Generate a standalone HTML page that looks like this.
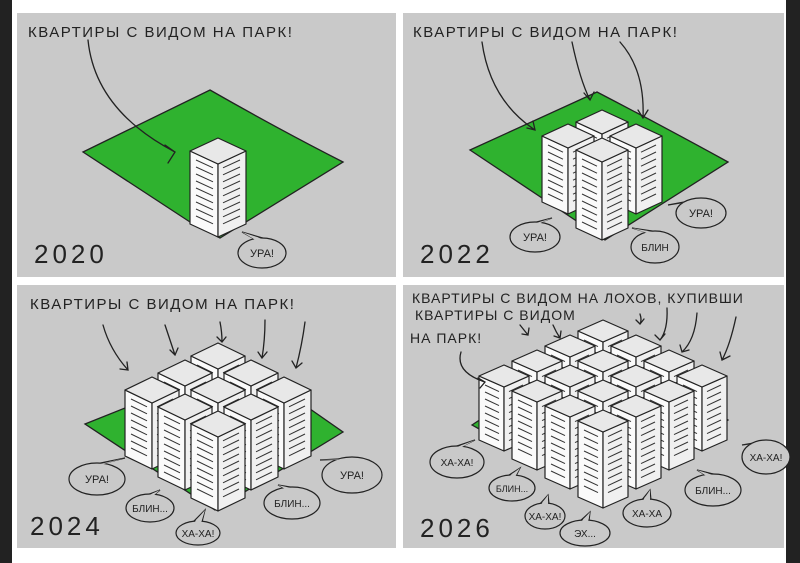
<!DOCTYPE html>
<html><head><meta charset="utf-8"><style>
html,body{margin:0;padding:0;background:#fff;}
body{width:800px;height:563px;overflow:hidden;position:relative;}
svg{position:absolute;left:0;top:0;}
text{font-family:"Liberation Sans","DejaVu Sans",sans-serif;fill:#222;}
</style></head><body>
<svg id="s" width="800" height="563" viewBox="0 0 800 563" xmlns="http://www.w3.org/2000/svg">
<rect x="0" y="0" width="12" height="563" fill="#222"/>
<rect x="786" y="0" width="14" height="563" fill="#222"/>
<rect x="17" y="13" width="379" height="264" fill="#c9c9c9"/>
<rect x="403" y="13" width="381" height="264" fill="#c9c9c9"/>
<rect x="17" y="285" width="379" height="263" fill="#c9c9c9"/>
<rect x="403" y="285" width="381" height="263" fill="#c9c9c9"/>
<!-- greens -->
<path d="M83 152 L210 90 Q280 130 343 162 L220 238 L190 222 Z" fill="#2fb22f" stroke="#222" stroke-width="1.3"/>
<path d="M470 150 L597 92 Q670 130 728 162 L605 240 L560 210 Z" fill="#2fb22f" stroke="#222" stroke-width="1.3"/>
<path d="M85 424 L170 390 L290 395 L343 432 L215 510 Z" fill="#2fb22f" stroke="#222" stroke-width="1.3"/>
<path d="M472 425 L600 340 L728 420 L605 500 Z" fill="#2fb22f" stroke="#222" stroke-width="1.3"/>
<g id="b"></g>
<g fill="none" stroke="#222" stroke-width="1.3" stroke-linecap="round">
<path d="M88 40 Q95 110 175 152 M165 145 L175 152 L168 163"/>
<path d="M482 42 Q490 100 535 130 M527 128 L535 130 L533 121"/>
<path d="M572 42 Q580 80 590 100 M584 93 L590 100 L594 92"/>
<path d="M620 42 Q645 70 643 118 M638 110 L643 118 L648 110"/>
<path d="M103 325 Q110 350 128 370 M120 369 L128 370 L127 362"/>
<path d="M165 325 Q170 340 175 355 M170 350 L175 355 L178 348"/>
<path d="M220 322 Q222 332 222 342 M217 337 L222 342 L226 337"/>
<path d="M265 320 Q265 340 262 358 M258 352 L262 358 L267 352"/>
<path d="M305 322 Q302 345 296 368 M292 361 L296 368 L302 363"/>
<path d="M461 352 Q455 372 485 382 M478 378 L485 382 L480 388"/>
<path d="M520 325 L528 335 M522 334 L528 335 L529 328"/>
<path d="M553 325 Q556 332 560 338 M554 336 L560 338 L561 331"/>
<path d="M640 314 Q642 320 640 324 M636 320 L640 324 L644 319"/>
<path d="M667 308 Q668 330 660 340 M655 335 L660 340 L665 334"/>
<path d="M697 313 Q695 340 682 352 M680 345 L682 352 L689 350"/>
<path d="M736 317 Q730 345 722 360 M720 352 L722 360 L730 356"/>
</g>
<g id="bub" fill="#c9c9c9" stroke="#222" stroke-width="1.2"></g>
<g font-size="15" letter-spacing="1.5">
<text x="28" y="37">КВАРТИРЫ С ВИДОМ НА ПАРК!</text>
<text x="413" y="37">КВАРТИРЫ С ВИДОМ НА ПАРК!</text>
<text x="30" y="309">КВАРТИРЫ С ВИДОМ НА ПАРК!</text>
<text x="412" y="303" font-size="14" letter-spacing="1">КВАРТИРЫ С ВИДОМ НА ЛОХОВ, КУПИВШИ</text>
<text x="415" y="320" font-size="14" letter-spacing="1">КВАРТИРЫ С ВИДОМ</text>
<text x="410" y="343" font-size="14" letter-spacing="1">НА ПАРК!</text>
</g>
<g font-size="26" letter-spacing="4" style="font-weight:300">
<text x="34" y="263">2020</text>
<text x="420" y="263">2022</text>
<text x="30" y="535">2024</text>
<text x="420" y="537">2026</text>
</g>
</svg>
<script>
var NS="http://www.w3.org/2000/svg";
var g=document.getElementById('b');
function el(t,a,p){var e=document.createElementNS(NS,t);for(var k in a)e.setAttribute(k,a[k]);(p||g).appendChild(e);return e;}
function bld(cx,ty,bw,bd,h){
 var st={stroke:"#222","stroke-width":"1.2","stroke-linejoin":"round"};
 function poly(pts,f){var a={points:pts.map(function(p){return p.join(',')}).join(' '),fill:f};for(var k in st)a[k]=st[k];el('polygon',a);}
 poly([[cx-bw,ty+bd],[cx,ty+2*bd],[cx,ty+2*bd+h],[cx-bw,ty+bd+h]],"#fafafa");
 poly([[cx,ty+2*bd],[cx+bw,ty+bd],[cx+bw,ty+bd+h],[cx,ty+2*bd+h]],"#f0f0f0");
 poly([[cx,ty],[cx+bw,ty+bd],[cx,ty+2*bd],[cx-bw,ty+bd]],"#e8e8e8");
 var n=Math.floor(h/7);
 for(var i=1;i<n;i++){var y=ty+bd+i*7;
  el('line',{x1:cx-bw+6,y1:y+2,x2:cx-5,y2:y+bd*0.6+2,stroke:"#333","stroke-width":"1"});
  el('line',{x1:cx+5,y1:y+bd*0.6+2,x2:cx+bw-6,y2:y+2,stroke:"#333","stroke-width":"1"});}
}
function grid(N,ox,oy,sx,sy,bw,bd,hf,c){
 for(var s=0;s<=2*(N-1);s++)for(var i=0;i<N;i++){var j=s-i;if(j<0||j>=N)continue;
  bld(ox+(i-j)*sx,oy+(i+j)*sy,bw,bd,hf-(2*(N-1)-s)*c);}
}
bld(218,138,28,13,73);
grid(2,602,110,34,14,26,12,78,12);
grid(3,218,343,33,17,27,13,74,4);
grid(4,603,320,33,15,25,11,76,4);
var bb=document.getElementById('bub');
function bub(x,y,rx,ry,t,tx,ty,fs){
 el('path',{d:"M"+(x-6)+" "+(y-ry+2)+" L"+tx+" "+ty+" L"+(x+4)+" "+(y-ry+1)},bb);
 el('ellipse',{cx:x,cy:y,rx:rx,ry:ry},bb);
 el('path',{d:"M"+(x-5)+" "+(y-ry+3)+" L"+tx+" "+ty+" L"+(x+3)+" "+(y-ry+2),stroke:"none"},bb);
 var e=el('text',{x:x,y:y+4,"text-anchor":"middle","font-size":fs||11,stroke:"none",fill:"#222"},bb);e.textContent=t;
}
bub(262,253,24,15,"УРА!",242,232);
bub(535,237,25,15,"УРА!",552,218);
bub(701,213,25,15,"УРА!",668,205);
bub(655,247,24,16,"БЛИН",632,228,10);
bub(97,479,28,16,"УРА!",125,458);
bub(150,508,24,14,"БЛИН...",160,490,10);
bub(198,533,22,12,"ХА-ХА!",205,510,10);
bub(292,503,28,16,"БЛИН...",278,485,10);
bub(352,475,30,18,"УРА!",320,460);
bub(457,462,27,16,"ХА-ХА!",475,440,10);
bub(512,488,23,13,"БЛИН...",520,468,9);
bub(545,516,20,13,"ХА-ХА!",548,495,10);
bub(585,533,25,13,"ЭХ...",590,512,10);
bub(647,513,24,14,"ХА-ХА",650,490,10);
bub(713,490,28,16,"БЛИН...",697,470,10);
bub(766,457,24,17,"ХА-ХА!",742,445,10);
</script>
</body></html>
